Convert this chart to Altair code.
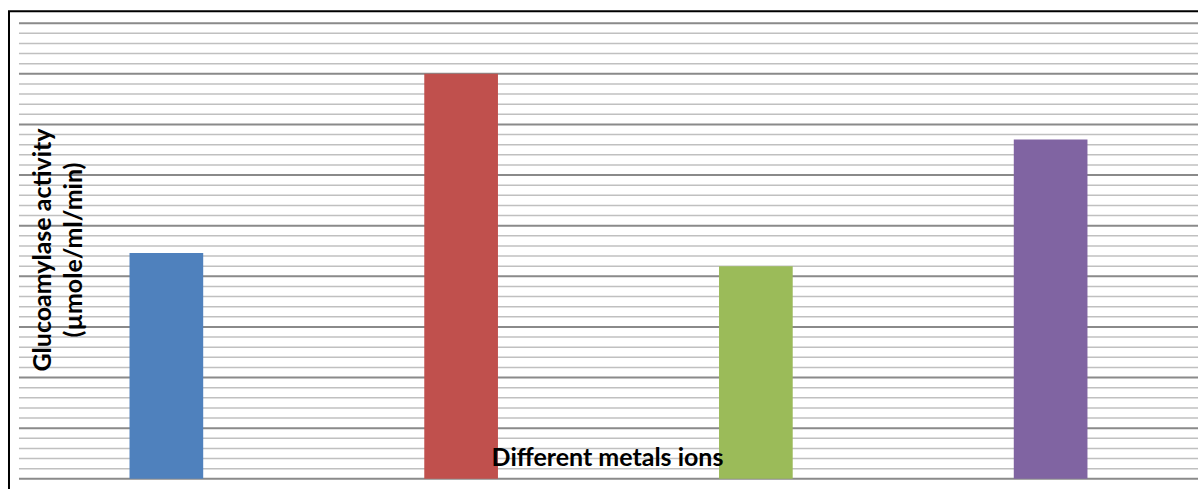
import altair as alt
import pandas as pd

# ---- data ----
metals = ["Ion 1", "Ion 2", "Ion 3", "Ion 4"]
activity = [22.3, 40.0, 21.0, 33.5]
bar_colors = ["#4F81BD", "#C0504D", "#9BBB59", "#8064A2"]
grid_values = list(range(0, 46))  # minor every 1, major every 5
y_title = "Glucoamylase activity\n(µmole/ml/min)"
x_title = "Different metals ions"

W, H = 1180, 456
FONT = "Lato"

bars_df = pd.DataFrame({"metal": metals, "activity": activity})
grid_df = pd.DataFrame({"v": grid_values})
grid_df["major"] = grid_df["v"] % 5 == 0

y_scale = alt.Scale(domain=[0, 45], nice=False, zero=True)
x_scale = alt.Scale(domain=metals, paddingInner=0.75, paddingOuter=0.375)

minor = alt.Chart(grid_df).transform_filter("!datum.major").mark_rule(
    color="#c0c0c0", strokeWidth=1.6
).encode(
    y=alt.Y("v:Q", scale=y_scale, axis=None),
    x=alt.value(0), x2=alt.value(W + 20),
)
major = alt.Chart(grid_df).transform_filter("datum.major").mark_rule(
    color="#8a8a8a", strokeWidth=2
).encode(
    y=alt.Y("v:Q", scale=y_scale, axis=None),
    x=alt.value(0), x2=alt.value(W + 20),
)

bars = alt.Chart(bars_df).mark_bar().encode(
    x=alt.X("metal:N", scale=x_scale, axis=None, sort=metals),
    y=alt.Y("activity:Q", scale=y_scale, axis=None),
    color=alt.Color("metal:N", scale=alt.Scale(domain=metals, range=bar_colors), legend=None),
)

ytext = alt.Chart(pd.DataFrame({"t": [y_title]})).mark_text(
    font=FONT, fontWeight="bold", fontSize=25, angle=270, align="center",
    baseline="middle", lineBreak="\n", lineHeight=31, color="#000000"
).encode(text="t:N", x=alt.value(24), y=alt.value(227))

xtext = alt.Chart(pd.DataFrame({"t": [x_title]})).mark_text(
    font=FONT, fontWeight="bold", fontSize=25, align="center",
    baseline="middle", color="#000000"
).encode(text="t:N", x=alt.value(589), y=alt.value(435))

border = alt.Chart(pd.DataFrame({"a": [0]})).mark_rect(
    filled=False, stroke="#000000", strokeWidth=2
).encode(x=alt.value(-10), x2=alt.value(W + 40), y=alt.value(-12), y2=alt.value(H + 40))

chart = alt.layer(minor, major, bars, ytext, xtext, border).properties(
    width=W, height=H,
    autosize=alt.AutoSizeParams(type="none"),
    padding={"left": 19, "top": 23, "right": 0, "bottom": 10},
    background="#ffffff",
).configure_view(stroke=None)

chart.save("out.html", embed_options={"renderer": "svg", "actions": False})
